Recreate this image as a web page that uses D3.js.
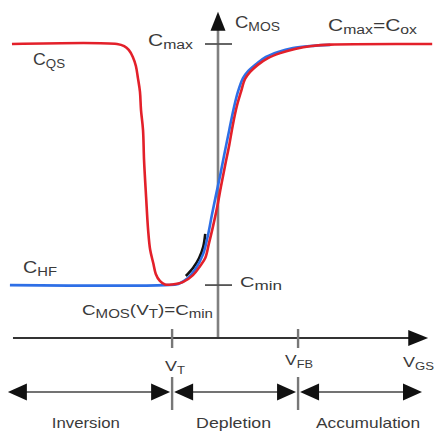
<!DOCTYPE html>
<html>
<head>
<meta charset="utf-8">
<script src="https://cdn.jsdelivr.net/npm/d3@7"></script>
<style>
  html, body { margin: 0; padding: 0; background: #fff; }
  svg { display: block; }
  text { font-family: "Liberation Sans", Arial, sans-serif; fill: #3a3a3a; }
</style>
</head>
<body>
<svg id="chart" width="434" height="432"></svg>
<script>
// MOS capacitor C–V curves: gate voltage in normalised units, capacitance as C / Cox.

// Quasi-static (low-frequency) curve C_QS
const qsVoltage = [-4.04, -1.98, -1.84, -1.75, -1.67, -1.61, -1.57, -1.53, -1.51, -1.47, -1.45, -1.41,
  -1.37, -1.33, -1.27, -1.22, -1.14, -1.04, -0.90, -0.69, -0.49, -0.35, -0.25, -0.18, -0.10, -0.02,
  0.06, 0.14, 0.22, 0.29, 0.37, 0.45, 0.53, 0.63, 0.78, 0.98, 1.22, 1.51, 1.84, 2.20, 4.20];
const qsCap = [1.0, 1.0, 0.993, 0.98, 0.956, 0.925, 0.884, 0.837, 0.776, 0.707, 0.605, 0.48,
  0.367, 0.30, 0.255, 0.218, 0.194, 0.182, 0.182, 0.19, 0.214, 0.245, 0.272, 0.32, 0.378, 0.442,
  0.517, 0.588, 0.656, 0.724, 0.789, 0.837, 0.881, 0.905, 0.929, 0.952, 0.969, 0.983, 0.993, 0.998, 1.0];

// High-frequency curve C_HF
const hfVoltage = [-4.08, -1.04, -0.78, -0.59, -0.43, -0.29, -0.20, -0.12, -0.04, 0.04, 0.12, 0.22,
  0.31, 0.39, 0.49, 0.59, 0.75, 0.94, 1.18, 1.47, 1.80, 2.20];
const hfCap = [0.18, 0.18, 0.184, 0.204, 0.238, 0.286, 0.347, 0.418, 0.486, 0.551, 0.622, 0.707,
  0.782, 0.837, 0.884, 0.908, 0.932, 0.956, 0.973, 0.986, 0.993, 0.997];

// Deep-depletion trace, mostly hidden beneath the other two
const ddVoltage = [-0.63, -0.49, -0.37, -0.29, -0.25];
const ddCap = [0.211, 0.238, 0.272, 0.310, 0.354];

// Reference levels
const C_MAX = 1.0;
const C_MIN = 0.18;
const V_T = -0.90;
const V_FB = 1.57;

// Operating regions along the gate-voltage axis
const regionNames = ["Inversion", "Depletion", "Accumulation"];
const regionBounds = [-4.12, V_T, V_FB, 4.0];

const svg = d3.select("#chart");
const x = d3.scaleLinear().domain([-4, 4]).range([14, 422]);
const y = d3.scaleLinear().domain([0, 1]).range([338, 44]);

const axisY = y(0);
const axisX = x(0);

// ---- axes ----
// vertical C_MOS axis
svg.append("line")
  .attr("x1", axisX).attr("x2", axisX)
  .attr("y1", axisY).attr("y2", y(1.07))
  .attr("stroke", "#808080").attr("stroke-width", 2.6);
svg.append("path")
  .attr("d", `M${axisX},${y(1.11)} L${axisX - 7.5},${y(1.045)} L${axisX + 7.5},${y(1.045)} Z`)
  .attr("fill", "#111");

// horizontal V_GS axis
svg.append("line")
  .attr("x1", x(-4.02)).attr("x2", x(3.75))
  .attr("y1", axisY).attr("y2", axisY)
  .attr("stroke", "#333").attr("stroke-width", 1.8);
svg.append("path")
  .attr("d", `M${x(4.12)},${axisY} L${x(3.73)},${axisY - 8} L${x(3.73)},${axisY + 8} Z`)
  .attr("fill", "#111");

// capacitance ticks on the vertical axis
[C_MAX, C_MIN].forEach(c => {
  svg.append("line")
    .attr("x1", axisX - 13).attr("x2", axisX + 14)
    .attr("y1", y(c)).attr("y2", y(c))
    .attr("stroke", "#555").attr("stroke-width", 1.8);
});

// voltage ticks on the horizontal axis
[V_T, V_FB].forEach(v => {
  svg.append("line")
    .attr("x1", x(v)).attr("x2", x(v))
    .attr("y1", axisY - 9).attr("y2", axisY + 10)
    .attr("stroke", "#777").attr("stroke-width", 2.4);
});

// ---- curves ----
const line = d3.line()
  .x(d => x(d[0]))
  .y(d => y(d[1]))
  .curve(d3.curveCatmullRom.alpha(0.5));

const zipped = (vs, cs) => vs.map((v, i) => [v, cs[i]]);

svg.append("path")
  .attr("d", line(zipped(ddVoltage, ddCap)))
  .attr("fill", "none").attr("stroke", "#111").attr("stroke-width", 2.6);

svg.append("path")
  .attr("d", line(zipped(hfVoltage, hfCap)))
  .attr("fill", "none").attr("stroke", "#2e6fe6").attr("stroke-width", 2.6);

svg.append("path")
  .attr("d", line(zipped(qsVoltage, qsCap)))
  .attr("fill", "none").attr("stroke", "#e3202a").attr("stroke-width", 2.6);

// ---- region arrows ----
const rowY = 392;
function head(tip, dir) {
  const base = tip - dir * 19;
  svg.append("path")
    .attr("d", `M${tip},${rowY} L${base},${rowY - 8.5} L${base},${rowY + 8.5} Z`)
    .attr("fill", "#111");
}
const labelOffsets = [44, 24, 18];
const labelWidths = [68, 75, 104];
regionNames.forEach((name, i) => {
  const a = x(regionBounds[i]) + (i === 0 ? 0 : 2);
  const b = x(regionBounds[i + 1]) - (i === regionNames.length - 1 ? 0 : 2);
  svg.append("line")
    .attr("x1", a + 4).attr("x2", b - 4)
    .attr("y1", rowY).attr("y2", rowY)
    .attr("stroke", "#444").attr("stroke-width", 1.6);
  head(a, -1);
  head(b, 1);
  svg.append("text")
    .attr("x", x(regionBounds[i]) + labelOffsets[i])
    .attr("y", 428)
    .attr("font-size", 15)
    .attr("textLength", labelWidths[i])
    .attr("lengthAdjust", "spacingAndGlyphs")
    .text(name);
});
[V_T, V_FB].forEach(v => {
  svg.append("line")
    .attr("x1", x(v)).attr("x2", x(v))
    .attr("y1", rowY - 15).attr("y2", rowY + 18)
    .attr("stroke", "#777").attr("stroke-width", 2.4);
});

// ---- labels with subscripts ----
function label(px, py, parts, width, size = 16, sub = 12) {
  const t = svg.append("text").attr("x", px).attr("y", py);
  let shifted = false;
  parts.forEach(([str, isSub]) => {
    const s = t.append("tspan").attr("font-size", isSub ? sub : size).text(str);
    if (isSub && !shifted) { s.attr("dy", 3); shifted = true; }
    else if (!isSub && shifted) { s.attr("dy", -3); shifted = false; }
  });
  if (width) t.attr("textLength", width).attr("lengthAdjust", "spacingAndGlyphs");
  return t;
}

label(33, 65, [["C", false], ["QS", true]], 32);
label(axisX - 70, y(C_MAX) + 2, [["C", false], ["max", true]], 45);
label(axisX + 17, 28, [["C", false], ["MOS", true]], 45);
label(328, 31, [["C", false], ["max", true], ["=C", false], ["ox", true]], 89);
label(23, 273, [["C", false], ["HF", true]], 34);
label(82, 315, [["C", false], ["MOS", true], ["(V", false], ["T", true], [")=C", false], ["min", true]], 131, 15, 12);
label(axisX + 22, y(C_MIN) + 2, [["C", false], ["min", true]], 42, 14, 12);
label(x(V_T) - 7, 371, [["V", false], ["T", true]], 20, 15, 11);
label(x(V_FB) - 13, 365, [["V", false], ["FB", true]], 28, 15, 11);
label(403, 367, [["V", false], ["GS", true]], 31, 15, 11);
</script>
</body>
</html>
